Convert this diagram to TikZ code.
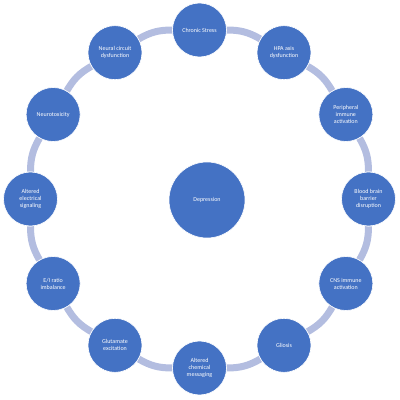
\documentclass[tikz,border=0pt]{standalone}
\usepackage{fontspec}
\setmainfont{Carlito}
\usetikzlibrary{backgrounds}
\definecolor{nodeblue}{HTML}{4472C4}
\definecolor{ringblue}{HTML}{B3BDE0}
\begin{document}
\begin{tikzpicture}[x=1pt,y=1pt,main node/.style={circle,fill=nodeblue,draw=white,line width=0.6pt,minimum size=54pt,inner sep=0pt,align=center,text=white,font=\fontsize{6}{7}\selectfont},ring/.style={draw=ringblue,line width=7pt}]
	\useasboundingbox (0,0) rectangle (400,400);
	\node[main node,minimum size=76pt] (0) at (207,200) {Depression};
	\begin{scope}[shift={(199.5,201)}]
	\node[main node] (1) at (90:169) {Chronic Stress};
	\node[main node] (2) at (60:169) {HPA axis\\dysfunction};
	\node[main node] (3) at (30:169) {Peripheral\\immune\\activation};
	\node[main node] (4) at (0:169) {Blood brain\\barrier\\disruption};
	\node[main node] (5) at (-30:169) {CNS immune\\activation};
	\node[main node] (6) at (-60:169) {Gliosis};
	\node[main node] (7) at (-90:169) {Altered\\chemical\\messaging};
	\node[main node] (8) at (-120:169) {Glutamate\\excitation};
	\node[main node] (9) at (-150:169) {E/I ratio\\imbalance};
	\node[main node] (10) at (180:169) {Altered\\electrical\\signaling};
	\node[main node] (11) at (150:169) {Neurotoxicity};
	\node[main node] (12) at (120:169) {Neural circuit\\dysfunction};
	\end{scope}

	\begin{pgfonlayer}{background}
	\path[ring]
		(1) edge [bend left=15] (2)
		(2) edge [bend left=15] (3)
		(3) edge [bend left=15] (4)
		(4) edge [bend left=15] (5)
		(5) edge [bend left=15] (6)
		(6) edge [bend left=15] (7)
		(7) edge [bend left=15] (8)
		(8) edge [bend left=15] (9)
		(9) edge [bend left=15] (10)
		(10) edge [bend left=15] (11)
		(11) edge [bend left=15] (12)
		(12) edge [bend left=15] (1);
	\end{pgfonlayer}
\end{tikzpicture}
\end{document}
